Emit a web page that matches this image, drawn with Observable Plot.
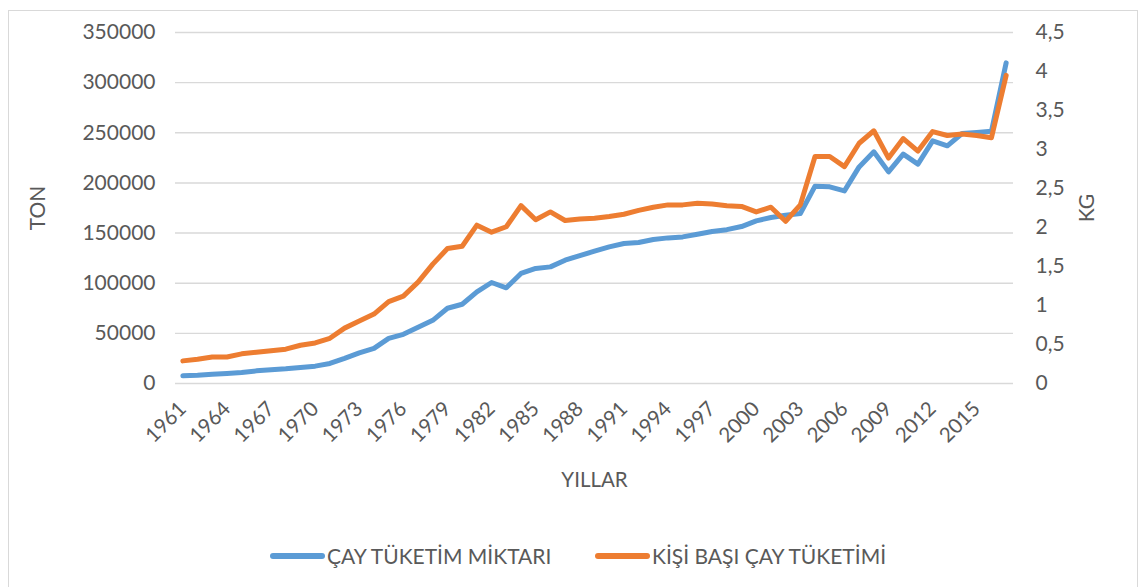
<!DOCTYPE html>
<html>
<head>
<meta charset="utf-8">
<script src="https://cdn.jsdelivr.net/npm/d3@7"></script>
<script src="https://cdn.jsdelivr.net/npm/@observablehq/plot@0.6"></script>
<style>
  html, body { margin: 0; padding: 0; background: #fff; width: 1146px; height: 587px; overflow: hidden; }
  body { font-family: Lato, "Open Sans", sans-serif; color: #595959; position: relative; }
  #frame { position: absolute; left: 8px; top: 10px; width: 1130px; height: 600px; border: 1px solid #d9d9d9; box-sizing: border-box; }
  #chart { position: absolute; left: 0; top: 0; }
  .leg { position: absolute; top: 543px; height: 26px; font-size: 21px; line-height: 26px; display: flex; align-items: center; white-space: nowrap; }
  .leg .sw { display: inline-block; width: 55px; height: 6px; border-radius: 3px; margin-right: 2px; }
</style>
</head>
<body>
<div id="frame"></div>
<div id="chart"></div>
<div class="leg" style="left:270px"><span class="sw" style="background:#5B9BD5"></span>ÇAY TÜKETİM MİKTARI</div>
<div class="leg" style="left:595px"><span class="sw" style="background:#ED7D31"></span>KİŞİ BAŞI ÇAY TÜKETİMİ</div>
<script>
const years = [1961,1962,1963,1964,1965,1966,1967,1968,1969,1970,
  1971,1972,1973,1974,1975,1976,1977,1978,1979,1980,
  1981,1982,1983,1984,1985,1986,1987,1988,1989,1990,
  1991,1992,1993,1994,1995,1996,1997,1998,1999,2000,
  2001,2002,2003,2004,2005,2006,2007,2008,2009,2010,
  2011,2012,2013,2014,2015,2016,2017];

// ÇAY TÜKETİM MİKTARI (TON)
const tonValues = [7700,8300,9300,10000,11000,12600,13600,14600,16000,17300,
  20000,25000,30500,35000,45000,49000,56000,63000,75000,79000,
  91400,100700,95400,109700,114700,116300,123000,127600,131900,136200,
  139600,140600,143600,145200,146200,148800,151500,153400,156500,162200,
  165500,167800,169500,196800,196100,192100,216000,231000,211000,228700,
  218700,242000,237000,249300,250300,251600,319700];

// KİŞİ BAŞI ÇAY TÜKETİMİ (KG)
const kgValues = [0.29,0.31,0.34,0.34,0.38,0.40,0.42,0.44,0.49,0.52,
  0.58,0.71,0.80,0.89,1.05,1.12,1.30,1.53,1.73,1.76,
  2.03,1.94,2.01,2.28,2.10,2.20,2.09,2.11,2.12,2.14,
  2.17,2.22,2.26,2.29,2.29,2.31,2.30,2.28,2.27,2.20,
  2.26,2.08,2.29,2.91,2.91,2.78,3.08,3.24,2.89,3.14,
  2.98,3.23,3.18,3.20,3.18,3.15,3.95];

const leftTicks = [0,50000,100000,150000,200000,250000,300000,350000];
const rightTicks = [0,0.5,1,1.5,2,2.5,3,3.5,4,4.5];
const yearTicks = [1961,1964,1967,1970,1973,1976,1979,1982,1985,1988,1991,1994,1997,2000,2003,2006,2009,2012,2015];

const leftMax = 350000, rightMax = 4.5;
const k = leftMax / rightMax;

const data = years.map((y, i) => ({year: y, ton: tonValues[i], kg: kgValues[i]}));

const chart = Plot.plot({
  width: 1146,
  height: 500,
  marginLeft: 175,
  marginRight: 133,
  marginTop: 32,
  marginBottom: 117,
  style: {fontFamily: "Lato, 'Open Sans', sans-serif", color: "#595959", background: "transparent", overflow: "visible"},
  x: {type: "point", domain: years, padding: 0.5},
  y: {domain: [0, leftMax]},
  marks: [
    Plot.gridY(leftTicks, {stroke: "#d9d9d9", strokeOpacity: 1, strokeWidth: 1.4}),
    Plot.axisY(leftTicks, {anchor: "left", tickSize: 0, tickPadding: 20, fontSize: 21,
      tickFormat: d => String(d),
      label: "TON", labelAnchor: "center", labelOffset: 145, labelArrow: "none"}),
    Plot.axisY(rightTicks.map(v => v * k), {anchor: "right", tickSize: 0, tickPadding: 22, fontSize: 21,
      tickFormat: d => String(Math.round(d / k * 10) / 10).replace(".", ","),
      label: "KG", labelAnchor: "center", labelOffset: 80, labelArrow: "none"}),
    Plot.axisX(yearTicks, {anchor: "bottom", tickSize: 0, tickPadding: 22, tickRotate: -45, fontSize: 20.5,
      tickFormat: d => String(d),
      label: "YILLAR", labelAnchor: "center", labelOffset: 103, labelArrow: "none"}),
    Plot.line(data, {x: "year", y: "ton", stroke: "#5B9BD5", strokeWidth: 5, strokeLinejoin: "round", strokeLinecap: "round"}),
    Plot.line(data, {x: "year", y: d => d.kg * k, stroke: "#ED7D31", strokeWidth: 5, strokeLinejoin: "round", strokeLinecap: "round"})
  ]
});
document.getElementById("chart").appendChild(chart);
</script>
</body>
</html>
